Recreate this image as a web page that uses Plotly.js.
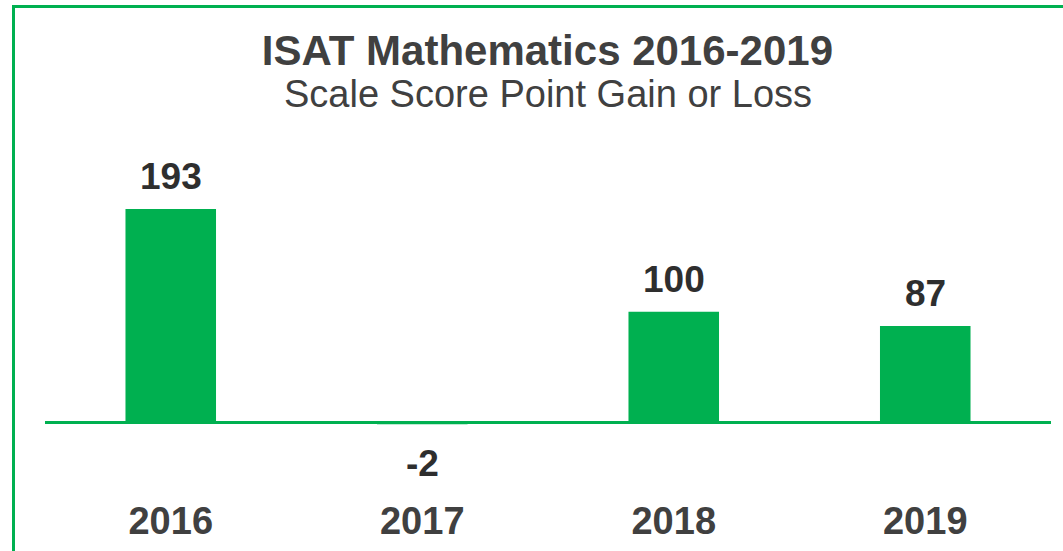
<!DOCTYPE html>
<html>
<head>
<meta charset="utf-8">
<script src="https://cdn.plot.ly/plotly-3.0.1.min.js"></script>
<style>
  html, body { margin: 0; padding: 0; background: #fff; overflow: hidden; }
  #chart { width: 1063px; height: 551px; }
  /* green frame of the original slide, cut off at the right edge */
  #frame {
    position: absolute; left: 12px; top: 5px; width: 1100px; height: 543px;
    border-left: 3px solid #00B050; border-top: 3px solid #00B050;
    border-bottom: 2px solid #d8f0ee;
    pointer-events: none;
  }
</style>
</head>
<body>
<div id="chart"></div>
<div id="frame"></div>
<script>
let years = ['2016', '2017', '2018', '2019'];
let gains = [193, -2, 100, 87];
let labels = ['193', '-2', '100', '87'];

let green = '#00B050';
let font = 'Liberation Sans, Arial, sans-serif';

// valeurs au-dessus (ou en dessous) de chaque barre
// (x donné par l'index : une chaîne "2016" serait prise pour un index)
let notes = [];
for (let i = 0; i < years.length; i++) {
    let up = gains[i] >= 0;
    notes.push({
        x: i,
        y: gains[i],
        text: '<b>' + labels[i] + '</b>',
        showarrow: false,
        yanchor: up ? 'bottom' : 'top',
        yshift: up ? 10 : -17,
        font: { family: font, size: 37, color: '#2e2e2e' }
    });
}

// sous-titre
notes.push({
    xref: 'paper',
    yref: 'paper',
    x: 0.5,
    y: 1.162,
    yanchor: 'middle',
    showarrow: false,
    text: 'Scale Score Point Gain or Loss',
    font: { family: font, size: 38, color: '#404040' }
});

Plotly.newPlot('chart', [{
    type: 'bar',
    x: years,
    y: gains,
    marker: { color: green },
    hoverinfo: 'none'
}], {
    width: 1063,
    height: 551,
    margin: { l: 45, r: 12, t: 150, b: 56 },
    paper_bgcolor: '#fff',
    plot_bgcolor: '#fff',
    bargap: 0.64,
    showlegend: false,
    title: {
        text: '<b>ISAT Mathematics 2016-2019</b>',
        x: 0.515,
        xanchor: 'center',
        y: 0.909,
        yanchor: 'middle',
        font: { family: font, size: 42, color: '#404040' }
    },
    xaxis: {
        type: 'category',
        range: [-0.5, 3.5],
        showgrid: false,
        showline: false,
        ticks: '',
        tickfont: { family: font, size: 38, color: '#404040' },
        tickprefix: '<b>',
        ticksuffix: '</b>',
        fixedrange: true
    },
    yaxis: {
        range: [-66.1, 246.5],
        showgrid: false,
        showticklabels: false,
        zeroline: true,
        zerolinecolor: green,
        zerolinewidth: 3,
        fixedrange: true
    },
    annotations: notes
}, { displayModeBar: false, staticPlot: true });
</script>
</body>
</html>
